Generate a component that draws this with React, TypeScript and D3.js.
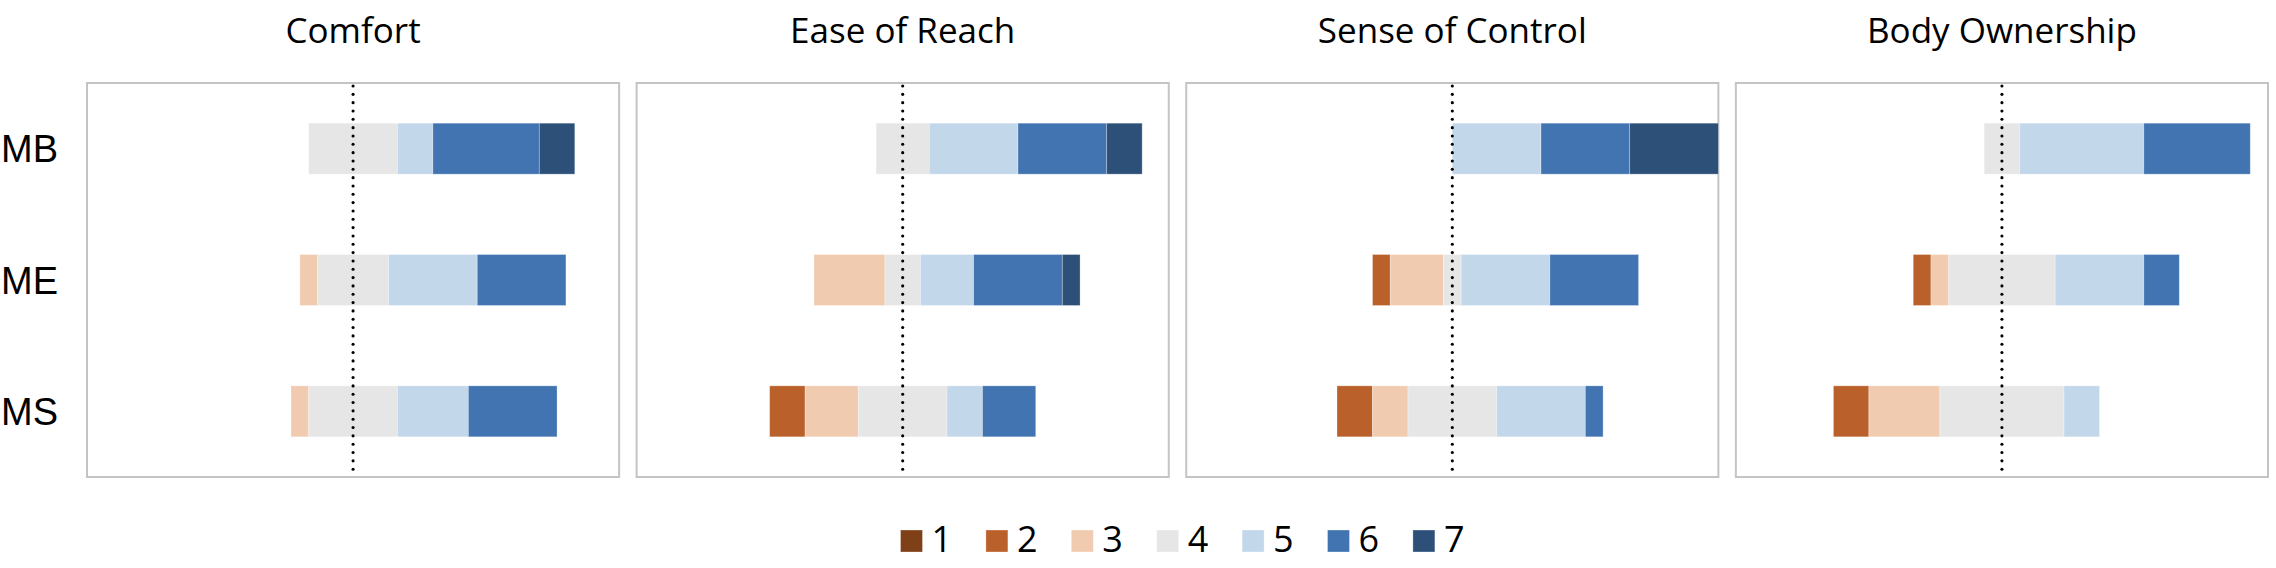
import React from 'react';
import * as d3 from 'd3';

const W = 2276;
const H = 568;

const panels = ['Comfort', 'Ease of Reach', 'Sense of Control', 'Body Ownership'];
const rows = ['MB', 'ME', 'MS'];
const levels = ['1', '2', '3', '4', '5', '6', '7'];
const levelColors = ['#7F3F17', '#B9602B', '#F1CBB0', '#E6E6E6', '#C3D7EB', '#4174B0', '#2D5079'];

// number of answers per Likert level (1..7) for each row, 15 participants
const comfort = [
  [0, 0, 0, 5, 2, 6, 2],
  [0, 0, 1, 4, 5, 5, 0],
  [0, 0, 1, 5, 4, 5, 0],
];
const easeOfReach = [
  [0, 0, 0, 3, 5, 5, 2],
  [0, 0, 4, 2, 3, 5, 1],
  [0, 2, 3, 5, 2, 3, 0],
];
const senseOfControl = [
  [0, 0, 0, 0, 5, 5, 5],
  [0, 1, 3, 1, 5, 5, 0],
  [0, 2, 2, 5, 5, 1, 0],
];
const bodyOwnership = [
  [0, 0, 0, 2, 7, 6, 0],
  [0, 1, 1, 6, 5, 2, 0],
  [0, 2, 4, 7, 2, 0, 0],
];
const panelData = [comfort, easeOfReach, senseOfControl, bodyOwnership];

const frameTop = 83;
const frameBottom = 477;

// stack segments so that the middle of the neutral level (4) sits on 0
function stackRow(counts: number[]) {
  const n = d3.sum(counts);
  const shares = counts.map((c) => c / n);
  let x0 = -(d3.sum(shares.slice(0, 3)) + shares[3] / 2);
  return shares.map((s, i) => {
    const seg = { level: i, x0, x1: x0 + s };
    x0 += s;
    return seg;
  }).filter((d) => d.x1 - d.x0 > 0);
}

const Panel: React.FC<{ title: string; data: number[][]; left: number; width: number }> = ({ title, data, left, width }) => {
  const x = d3.scaleLinear().domain([-1, 1]).range([left, left + width]);
  const y = d3.scaleBand<string>().domain(rows).range([frameTop, frameBottom]).paddingInner(0.612).paddingOuter(0.306);
  const dots = d3.range(frameTop + 3, frameBottom - 4, 8.33);
  return (
    <g>
      <text x={x(0)} y={43} textAnchor="middle" fontFamily="'Open Sans', sans-serif" fontSize={35} fill="#000">
        {title}
      </text>
      <rect x={left} y={frameTop} width={width} height={frameBottom - frameTop} fill="#fff" stroke="#C4C4C4" strokeWidth={2} />
      {data.map((counts, r) => (
        <g key={rows[r]}>
          {stackRow(counts).map((s) => (
            <rect
              key={s.level}
              x={x(s.x0)}
              y={y(rows[r])}
              width={x(s.x1) - x(s.x0)}
              height={y.bandwidth()}
              fill={levelColors[s.level]}
              stroke="rgba(255,255,255,0.35)"
              strokeWidth={0.8}
            />
          ))}
        </g>
      ))}
      {dots.map((d, i) => (
        <circle key={i} cx={x(0)} cy={d} r={1.55} fill="#000" />
      ))}
    </g>
  );
};

export default function App() {
  const px = d3.scaleBand<string>().domain(panels).range([87, 2268]).paddingInner(0.0318).paddingOuter(0);
  const y = d3.scaleBand<string>().domain(rows).range([frameTop, frameBottom]).paddingInner(0.612).paddingOuter(0.306);
  const lx = d3.scaleBand<string>().domain(levels).range([900.5, 900.5 + 7 * 85.4]);

  return (
    <svg width={W} height={H} viewBox={`0 0 ${W} ${H}`} style={{ position: 'absolute', left: 0, top: 0, display: 'block', background: '#fff' }}>
      <rect width={W} height={H} fill="#fff" />
      {panels.map((p, i) => (
        <Panel key={p} title={p} data={panelData[i]} left={px(p)!} width={px.bandwidth()} />
      ))}
      {rows.map((r) => (
        <text key={r} x={1} y={y(r)! + y.bandwidth() / 2} dy="0.36em" fontFamily="'Liberation Sans', Arial, sans-serif" fontSize={38} fill="#000">
          {r}
        </text>
      ))}
      {levels.map((l, i) => (
        <g key={l}>
          <rect x={lx(l)} y={530} width={22} height={22} fill={levelColors[i]} stroke="rgba(255,255,255,0.4)" strokeWidth={0.8} />
          <text x={lx(l)! + 31} y={552} fontFamily="'Open Sans', sans-serif" fontSize={36} fill="#000">
            {l}
          </text>
        </g>
      ))}
    </svg>
  );
}
